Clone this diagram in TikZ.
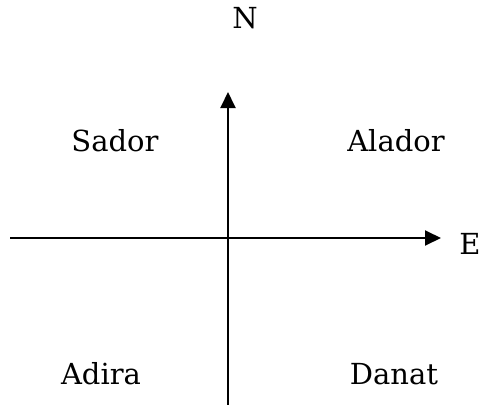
\documentclass[tikz,border=0pt]{standalone}
\usepackage{fontspec}
\setmainfont{DejaVu Serif}
\usetikzlibrary{arrows.meta}
\usetikzlibrary{positioning}
\tikzset{
    x=1pt, y=-1pt,
    every node/.append style={
        font=\fontsize{29}{34}\selectfont,
        inner sep=0pt
    },
    axis/.style={
        draw,
        line width=1.9pt,
        -{Triangle[length=16pt,width=15pt]}
    }
}
\begin{document}
\begin{tikzpicture}
                \useasboundingbox (0,0) rectangle (491,405);
                \coordinate (west) at (10,238);
                \coordinate (east) at (441,238);
                \coordinate (south) at (228,405);
                \coordinate (north) at (228,92);

                \node (n) at (245,18) {N};
                \node (e) at (470,244) {E};
                \node (sador) at (115,141) {Sador};
                \node (alador) at (396,141) {Alador};
                \node (adira) at (101,374) {Adira};
                \node (danat) at (394,374) {Danat};

                \draw[axis] (west) -- (east);
                \draw[axis] (south) -- (north);
            \end{tikzpicture}
\end{document}
